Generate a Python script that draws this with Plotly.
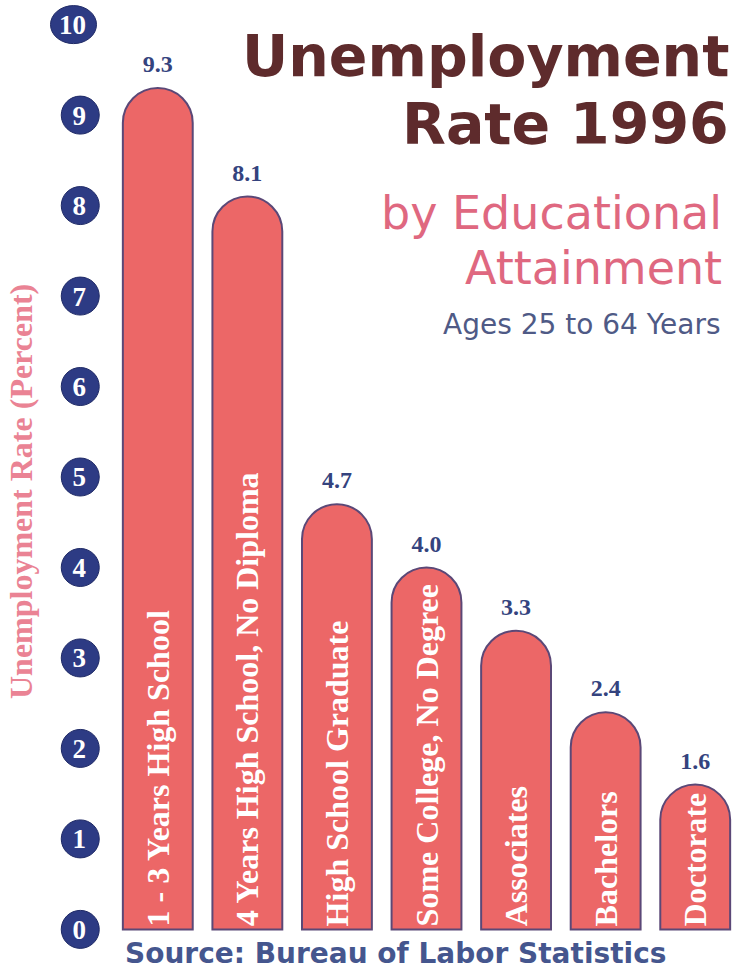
import plotly.graph_objects as go

# --- data -------------------------------------------------------------
categories = [
    "1 - 3 Years High School",
    "4 Years High School, No Diploma",
    "High School Graduate",
    "Some College, No Degree",
    "Associates",
    "Bachelors",
    "Doctorate",
]
rates = [9.3, 8.1, 4.7, 4.0, 3.3, 2.4, 1.6]
tick_values = [0, 1, 2, 3, 4, 5, 6, 7, 8, 9, 10]
tick_labels = [str(v) for v in tick_values]

# --- layout geometry (pixels) ----------------------------------------
W, H = 740, 973
Y_PAD = 0.25                      # axis padding so end badges are not clipped
ML, MR, MT, MB = 113, 0, 2, 21
PW, PH = W - ML - MR, H - MT - MB


def px_x(px):
    """pixel x -> paper x"""
    return (px - ML) / PW


def px_y(py):
    """pixel y (from top) -> paper y"""
    return (H - MB - py) / PH


BAR_FILL = "#ec6767"
BAR_EDGE = "#5b4877"
NAVY = "#2d3b84"
VALUE_COL = "#34437e"
TITLE_COL = "#5e2b2c"
PINK = "#df6880"
YTITLE_COL = "#ea8394"
AGES_COL = "#4f5a86"
SOURCE_COL = "#45568e"

SERIF = "Liberation Serif"
SANS = "DejaVu Sans"

fig = go.Figure()

# bars with domed tops, category name written up the inside of each bar
fig.add_trace(go.Bar(
    x=list(range(len(categories))),
    y=rates,
    text=categories,
    textposition="inside",
    insidetextanchor="start",
    textangle=-90,
    constraintext="none",
    textfont=dict(family=SERIF, size=32, color="white", weight="bold"),
    marker=dict(color=BAR_FILL, line=dict(color=BAR_EDGE, width=2),
                cornerradius="50%"),
    hoverinfo="skip",
    cliponaxis=False,
))

# value labels above each bar (invisible markers push the text upward)
fig.add_trace(go.Scatter(
    x=list(range(len(categories))),
    y=rates,
    mode="markers+text",
    marker=dict(size=14, opacity=0),
    text=[f"{v:.1f}" for v in rates],
    textposition="top center",
    textfont=dict(family=SERIF, size=24, color=VALUE_COL, weight="bold"),
    hoverinfo="skip",
    cliponaxis=False,
))

# round navy badges behind the y tick numbers
TICK_FONT = 27
LABEL_RIGHT = 87  # pixel x of the right edge of tick labels
shapes = []
for v, lab in zip(tick_values, tick_labels):
    half_w = 19 + 4 * (len(lab) - 1)
    cx = LABEL_RIGHT - len(lab) * TICK_FONT * 0.25
    shapes.append(dict(
        type="circle", layer="below",
        xref="paper", yref="y",
        xsizemode="pixel", ysizemode="pixel",
        xanchor=px_x(cx), yanchor=v,
        x0=-half_w, x1=half_w, y0=-19, y1=19,
        fillcolor=NAVY, line=dict(color="#1f2a66", width=1),
    ))

annotations = [
    dict(text="<b>Unemployment</b>", x=px_x(731), y=px_y(56),
         font=dict(family=SANS, size=57, color=TITLE_COL)),
    dict(text="<b>Rate 1996</b>", x=px_x(731), y=px_y(124),
         font=dict(family=SANS, size=57, color=TITLE_COL)),
    dict(text="by Educational", x=px_x(724), y=px_y(213),
         font=dict(family=SANS, size=46, color=PINK)),
    dict(text="Attainment", x=px_x(724), y=px_y(268),
         font=dict(family=SANS, size=46, color=PINK)),
    dict(text="Ages 25 to 64 Years", x=px_x(723), y=px_y(325),
         font=dict(family=SANS, size=28, color=AGES_COL)),
]
for a in annotations:
    a.update(xref="paper", yref="paper", xanchor="right", yanchor="middle",
             showarrow=False)

annotations.append(dict(
    text="<b>Source: Bureau of Labor Statistics</b>",
    xref="paper", yref="paper", x=px_x(123), y=px_y(953),
    xanchor="left", yanchor="middle", showarrow=False,
    font=dict(family=SANS, size=28, color=SOURCE_COL),
))
annotations.append(dict(
    text="<b>Unemployment Rate (Percent)</b>",
    xref="paper", yref="paper", x=px_x(21), y=px_y(492),
    xanchor="center", yanchor="middle", showarrow=False, textangle=-90,
    font=dict(family=SERIF, size=32, color=YTITLE_COL),
))

fig.update_layout(
    width=W, height=H,
    margin=dict(l=ML, r=MR, t=MT, b=MB, pad=0),
    paper_bgcolor="white", plot_bgcolor="white",
    showlegend=False,
    bargap=0.22,
    shapes=shapes,
    annotations=annotations,
    xaxis=dict(range=[-0.5, len(categories) - 0.5], showticklabels=False,
               showgrid=False, zeroline=False, showline=False, ticks="",
               fixedrange=True),
    yaxis=dict(range=[-Y_PAD, 10 + Y_PAD], tickvals=tick_values,
               ticktext=tick_labels,
               showgrid=False, zeroline=False, showline=False, ticks="",
               ticklabelstandoff=ML - LABEL_RIGHT,
               tickfont=dict(family=SERIF, size=TICK_FONT, color="white",
                             weight="bold"),
               fixedrange=True),
)

fig.write_html("out.html", config={"displayModeBar": False})
